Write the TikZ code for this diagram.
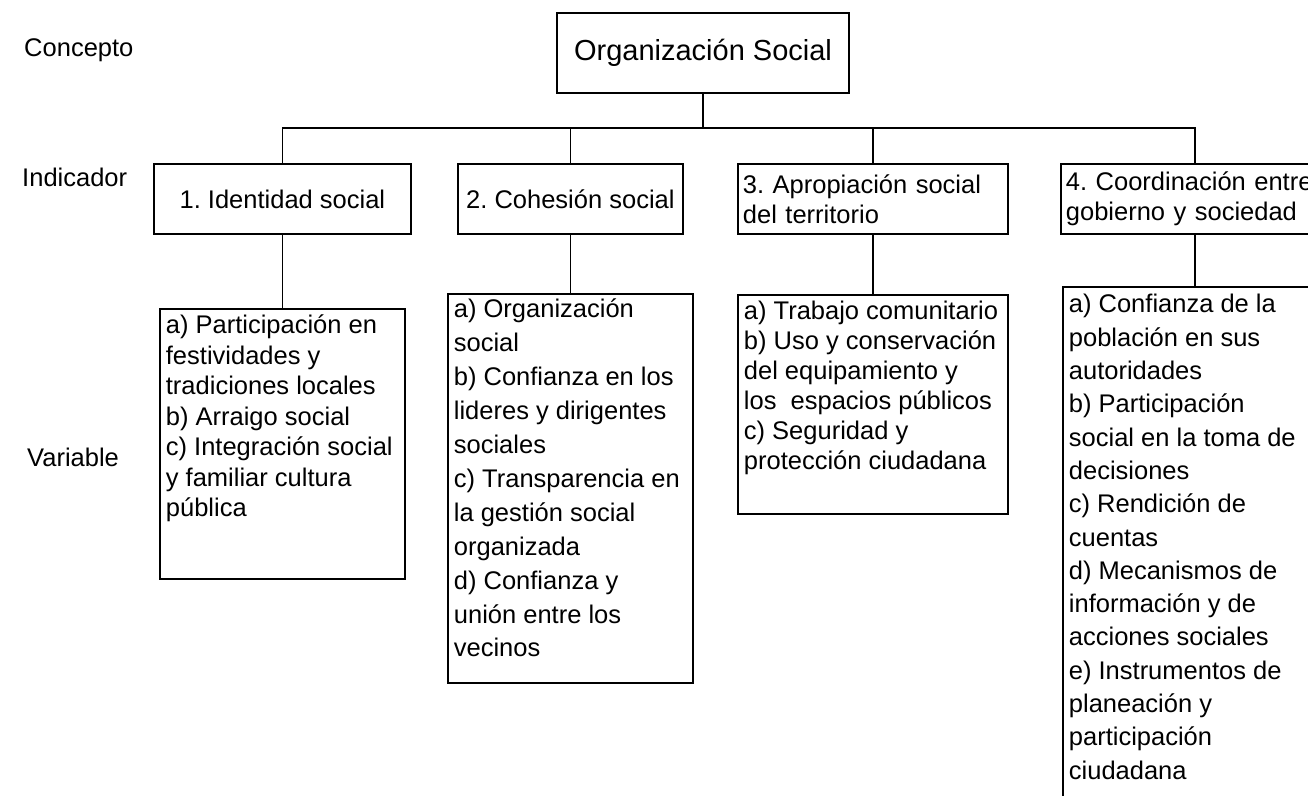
\documentclass[tikz,border=0pt]{standalone}
\usepackage{fontspec}
\setmainfont{Liberation Sans}
\usetikzlibrary{calc, positioning}
\frenchspacing

% list of variables in a box: width, height, line distance, first line offset, lines
\newcommand{\varlist}[5]{\parbox[t][#2][t]{#1}{\raggedright\leftskip=6pt\fontsize{25.5}{#3}\selectfont\rule{0pt}{#4}#5}}

\begin{document}
\begin{tikzpicture}[
    x=1pt, y=-1pt,
    line width=1.8pt,
    font=\fontsize{25.5}{30}\selectfont,
    concept_style/.style={draw=black, line width=1.8pt, minimum width=292pt, minimum height=80pt, inner sep=0pt, font=\fontsize{29}{34}\selectfont},
    ind_style/.style={draw=black, line width=1.8pt, anchor=north west, minimum height=70pt, inner sep=0pt},
    var_style/.style={draw=black, line width=1.8pt, anchor=north west, inner sep=0pt},
    level_style/.style={anchor=base west}
]
    \clip (0,0) rectangle (1308,795);

    % Level labels (left)
    \node[level_style] (lab_con) at (20,56) {Concepto};
    \node[level_style] (lab_ind) at (18,186) {Indicador};
    \node[level_style] (lab_var) at (23,466) {Variable};

    % --- CONCEPT ---
    \node[concept_style] (root) at (703,53) {Organización Social};
    \coordinate (bus) at (703,128);

    % --- INDICATORS ---
    \node[ind_style, minimum width=257pt] (ind1) at (153,163) {1. Identidad social};
    \node[ind_style, minimum width=225pt] (ind2) at (457,163) {2. Cohesión social};
    \node[ind_style, minimum width=270pt, text width=260pt, inner xsep=5pt, align=left] (ind3) at (737,163) {3. Apropiación social\\del territorio};
    \node[ind_style, minimum width=268pt, text width=258pt, inner xsep=5pt, align=left] (ind4) at (1060,163) {4. Coordinación entre\\gobierno y sociedad};

    % --- VARIABLES ---
    \node[var_style] (var1) at (159,308) {\varlist{245pt}{270pt}{30.5pt}{25pt}{a) Participación en\\festividades y\\tradiciones locales\\b) Arraigo social\\c) Integración social\\y familiar cultura\\pública}};
    \node[var_style] (var2) at (447,293) {\varlist{245pt}{389pt}{33.9pt}{24pt}{a) Organización\\social\\b) Confianza en los\\lideres y dirigentes\\sociales\\c) Transparencia en\\la gestión social\\organizada\\d) Confianza y\\unión entre los\\vecinos}};
    \node[var_style] (var3) at (737,294) {\varlist{270pt}{219pt}{30pt}{25pt}{a) Trabajo comunitario\\b) Uso y conservación\\del equipamiento y\\los\ \ espacios públicos\\c) Seguridad y\\protección ciudadana}};
    \node[var_style] (var4) at (1062,286) {\varlist{264pt}{540pt}{33.3pt}{26pt}{a) Confianza de la\\población en sus\\autoridades\\b) Participación\\social en la toma de\\decisiones\\c) Rendición de\\cuentas\\d) Mecanismos de\\información y de\\acciones sociales\\e) Instrumentos de\\planeación y\\participación\\ciudadana}};

    % Concept to indicators
    \draw (root.south) -- (bus);
    \draw (bus) -| (ind1.north);
    \draw (bus) -| (ind2.north);
    \draw (bus) -| (ind3.north);
    \draw (bus) -| (ind4.north);

    % Indicators to variables
    \draw (ind1.south) -- (var1.north);
    \draw (ind2.south) -- (var2.north);
    \draw (ind3.south) -- (var3.north);
    \draw (ind4.south) -- (var4.north);

\end{tikzpicture}
\end{document}
